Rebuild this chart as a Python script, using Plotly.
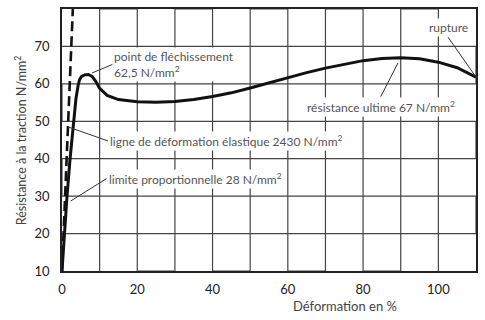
import numpy as np
import plotly.graph_objects as go

# Stress-strain curve of a polymer (strain in %, stress in N/mm²)
elastic_modulus = 2430      # N/mm², slope of the elastic line
proportional_limit = 28     # N/mm²
yield_strength = 62.5       # N/mm², top of the yield hump
ultimate_strength = 67      # N/mm², highest stress before rupture

strain = [0, 0.6, 1.3, 2.1, 3.0, 3.7, 4.3, 4.7, 5.2, 6.0, 7.0, 8.0, 9.0, 10.0, 12.0, 15.0,
          20.0, 25.0, 30.0, 35.0, 40.0, 45.0, 50.0, 55.0, 60.0, 65.0, 70.0, 75.0,
          80.0, 85.0, 90.0, 95.0, 100.0, 105.0, 110.0]
stress = [10.0, 19.5, 29.5, 39.5, 50.0, 56.0, 59.7, 61.2, 62.0, 62.4, yield_strength, 62.0, 60.6, 58.8,
          56.9, 55.8, 55.2, 55.1, 55.3, 55.8, 56.6, 57.6, 58.9, 60.3, 61.6, 63.0, 64.2, 65.3,
          66.2, 66.8, ultimate_strength, 66.7, 65.8, 64.3, 61.8]

x_grid = [10, 20, 30, 40, 50, 60, 70, 80, 90, 100]
x_ticks = [0, 20, 40, 60, 80, 100]
y_grid = [20, 30, 40, 50, 60, 70]
y_ticks = [10, 20, 30, 40, 50, 60, 70]
x_range = [0, 110]
y_range = [10, 80]

# elastic line: stress rises by E/100 per percent of strain
elastic_x = [0, (y_range[1] - y_range[0]) / (elastic_modulus / 100)]
elastic_y = [y_range[0], y_range[1]]

# grid as one serpentine path per direction; the joins run along the frame
gx, gy = [], []
for i, v in enumerate(x_grid):
    ends = y_range if i % 2 == 0 else y_range[::-1]
    gx += [v, v]
    gy += list(ends)
gx.append(None)
gy.append(None)
for i, v in enumerate(y_grid):
    ends = x_range if i % 2 == 0 else x_range[::-1]
    gx += list(ends)
    gy += [v, v]

fig = go.Figure()
fig.add_trace(go.Scatter(x=gx, y=gy, mode="lines", connectgaps=False,
                         line=dict(color="#454545", width=1.2), hoverinfo="skip"))
fig.add_trace(go.Scatter(x=elastic_x, y=elastic_y, mode="lines",
                         line=dict(color="#111", width=2.6, dash="10px,5px"),
                         hoverinfo="skip"))
fig.add_trace(go.Scatter(x=strain, y=stress, mode="lines",
                         line=dict(color="#111", width=3),
                         hoverinfo="skip"))

ann_font = dict(family="Lato, sans-serif", size=12, color="#555")
ptr = dict(showarrow=True, arrowhead=0, arrowwidth=1, arrowcolor="#333",
           bgcolor="white", borderpad=1, font=ann_font, xref="x", yref="y")

rising_x = strain[:6]
rising_y = stress[:6]
prop_x = float(np.interp(proportional_limit, rising_y, rising_x))
el_y = 48.5
el_x = (el_y - y_range[0]) / (elastic_modulus / 100)
yield_x = strain[stress.index(yield_strength)]
ult_x = strain[stress.index(ultimate_strength)]


def fr(v):
    return f"{v:g}".replace(".", ",")


annotations = [
    dict(x=prop_x, y=proportional_limit, ax=40, ay=-25, standoff=5,
         xanchor="left", yanchor="middle",
         text=f"limite proportionnelle {fr(proportional_limit)} N/mm<sup>2</sup>", **ptr),
    dict(x=el_x, y=el_y, ax=40, ay=14, standoff=0,
         xanchor="left", yanchor="middle",
         text=f"ligne de déformation élastique {elastic_modulus} N/mm<sup>2</sup>", **ptr),
    dict(x=yield_x, y=yield_strength, ax=24, ay=-10, standoff=4,
         xanchor="left", yanchor="middle", align="left",
         text=f"point de fléchissement<br>{fr(yield_strength)} N/mm<sup>2</sup>", **ptr),
    dict(x=ult_x, y=ultimate_strength, ax=-20, ay=39, standoff=6,
         xanchor="center", yanchor="top",
         text=f"résistance ultime {fr(ultimate_strength)} N/mm<sup>2</sup>", **ptr),
    dict(x=strain[-1], y=stress[-1], ax=-28, ay=-40, standoff=0,
         xanchor="center", yanchor="bottom",
         text="rupture", **ptr),
    dict(xref="paper", yref="paper", x=0.684, y=-0.135, xanchor="center", yanchor="middle",
         showarrow=False, text="Déformation en %",
         font=dict(family="Lato, sans-serif", size=13, color="#444")),
    dict(xref="paper", yref="paper", x=-0.101, y=0.5, xanchor="center", yanchor="middle",
         showarrow=False, textangle=-90, text="Résistance à la traction N/mm<sup>2</sup>",
         font=dict(family="Lato, sans-serif", size=12.5, color="#444")),
]

axis_common = dict(showline=True, linecolor="#222", linewidth=1.5, mirror=True,
                   showgrid=False, zeroline=False,
                   ticks="outside", tickcolor="white", tickmode="array",
                   tickfont=dict(family="Lato, sans-serif", size=13, color="#222"))

fig.update_layout(
    width=485, height=320,
    margin=dict(l=62, r=8, t=7, b=49),
    paper_bgcolor="white", plot_bgcolor="white",
    showlegend=False,
    xaxis=dict(range=x_range, tickvals=x_ticks, ticklen=6, **axis_common),
    yaxis=dict(range=y_range, tickvals=y_ticks, ticklen=8, **axis_common),
    annotations=annotations,
)

fig.write_html("out.html")
